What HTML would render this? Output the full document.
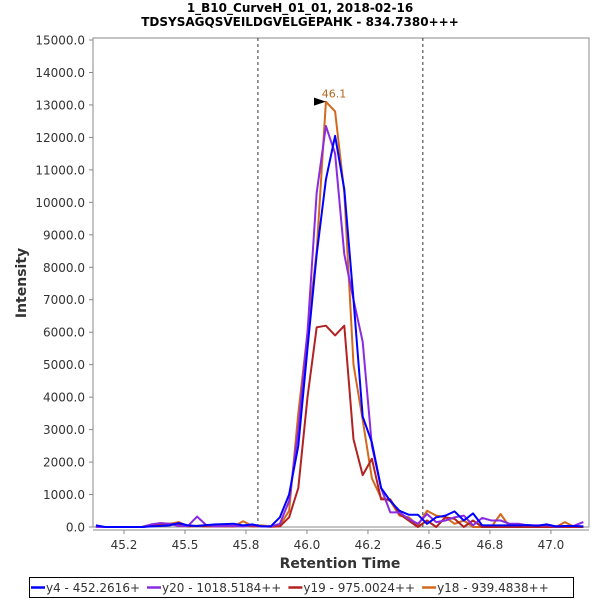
<!DOCTYPE html>
<html><head><meta charset="utf-8"><style>
body{margin:0;background:#fff;font-family:"DejaVu Sans",sans-serif}
svg{display:block}
</style></head><body>
<svg width="600" height="600" id="chart" font-family="DejaVu Sans, sans-serif">
<text x="300" y="12" text-anchor="middle" font-size="12" font-weight="bold" fill="#000">1_B10_CurveH_01_01, 2018-02-16</text>
<text x="300" y="26" text-anchor="middle" font-size="12" font-weight="bold" fill="#000">TDSYSAGQSVEILDGVELGEPAHK - 834.7380+++</text>
<g id="yaxis"></g>
<g id="xaxis"></g>
<text transform="translate(26,283) rotate(-90)" text-anchor="middle" font-size="14" font-weight="bold" fill="#333">Intensity</text>
<text x="340" y="568" text-anchor="middle" font-size="14" font-weight="bold" fill="#333">Retention Time</text>
<g id="series"></g>
<g id="legend">
<rect x="29.5" y="577.5" width="544" height="20" fill="#fff" stroke="#000"/>
</g>
</svg>
<script>
const startTime = 45.135;
const step = 0.0377;
const y4 = [50,0,0,0,0,0,20,30,50,120,50,30,60,80,90,100,50,80,20,20,300,1000,2500,5500,8400,10700,12050,10400,7000,3400,2600,1200,800,500,380,380,100,300,350,480,200,420,50,50,50,50,50,60,40,80,20,30,30,20];
const y20 = [0,0,0,0,0,0,80,120,100,30,30,320,60,20,30,30,20,60,20,20,100,800,3000,6000,10300,12350,11500,8400,7000,5700,2500,1200,450,450,250,100,400,150,200,300,350,50,280,200,200,100,100,50,50,50,20,30,40,150];
const y19 = [0,0,0,0,0,0,30,60,100,80,20,30,20,20,20,20,50,20,20,10,20,300,1200,4000,6150,6200,5900,6200,2700,1600,2100,850,850,400,200,0,200,0,300,250,0,200,0,0,0,0,0,0,0,0,0,0,0,0];
const y18 = [0,0,0,0,0,0,50,120,100,150,30,40,60,50,60,20,180,30,50,20,50,500,3500,6000,8500,13100,12800,10300,5000,3300,1500,900,800,350,300,50,500,350,300,100,200,0,0,0,400,0,50,60,20,0,0,150,0,0];
const yTicks = [0,1000,2000,3000,4000,5000,6000,7000,8000,9000,10000,11000,12000,13000,14000,15000];
const xTicks = [45.25,45.5,45.75,46.0,46.25,46.5,46.75,47.0];
const xTickLabels = ["45.2","45.5","45.8","46.0","46.2","46.5","46.8","47.0"];
const boundaries = [45.799,46.475];
const peakTime = 46.078, peakValue = 13100, peakLabel = "46.1";
const legendLabels = ["y4 - 452.2616+","y20 - 1018.5184++","y19 - 975.0024++","y18 - 939.4838++"];
const colors = ["#0000ff","#8a2be2","#b22222","#d2691e"];

const L=93,R=589,T=38,B=527;
const xmin=45.123,xmax=47.156;
const X=t=>L+(t-xmin)/(xmax-xmin)*(R-L);
const Y=v=>B-(v/15000)*(B-40);
const NS="http://www.w3.org/2000/svg";
function mk(tag,attrs,parent){const e=document.createElementNS(NS,tag);for(const k in attrs)e.setAttribute(k,attrs[k]);parent.appendChild(e);return e;}
const ya=document.getElementById('yaxis'), xa=document.getElementById('xaxis');
let r=mk('rect',{x:L,y:T,width:R-L,height:B-T,fill:'#fff',stroke:'#888'},ya);


yTicks.forEach(v=>{
  const tl=mk('line',{x1:L-4,x2:L,y1:Y(v),y2:Y(v),stroke:'#888'},ya);
  
  
  const t=mk('text',{x:L-8,y:Y(v)+4.5,'text-anchor':'end','font-size':'12',fill:'#333'},ya);
  t.textContent=v.toFixed(1);
  
  
});
mk('line',{x1:L,x2:R,y1:B+3,y2:B+3,stroke:'#888'},xa);
xTicks.forEach((v,i)=>{
  const tl=mk('line',{x1:X(v),x2:X(v),y1:B+3,y2:B+7,stroke:'#888'},xa);
  
  
  const t=mk('text',{x:X(v),y:B+22,'text-anchor':'middle','font-size':'12',fill:'#333'},xa);
  t.textContent=xTickLabels[i];
  
  
});
const sg=document.getElementById('series');
boundaries.forEach(b=>{
  const l=mk('line',{x1:X(b),x2:X(b),y1:T,y2:B,stroke:'#333','stroke-dasharray':'3,3'},sg);
  
  
});
const data=[y4,y20,y19,y18];
const names=['series-y4','series-y20','series-y19','series-y18'];
[3,2,1,0].forEach(si=>{
  const pts=data[si].map((v,i)=>X(startTime+i*step).toFixed(1)+','+Y(v).toFixed(1)).join(' ');
  const p=mk('polyline',{points:pts,fill:'none',stroke:colors[si],'stroke-width':2,'stroke-linejoin':'round'},sg);
  
  
});
const px=X(peakTime),py=Y(peakValue);
const ar=mk('polygon',{points:`${px-12},${py-4} ${px},${py} ${px-12},${py+4}`,fill:'#000'},sg);


const pl=mk('text',{x:px+8,y:py-4,'text-anchor':'middle','font-size':'11',fill:'#b5651d'},sg);
pl.textContent=peakLabel;


const lg=document.getElementById('legend');
const texts=[];
legendLabels.forEach((s,i)=>{
  const t=mk('text',{x:0,y:592,'font-size':'12',fill:'#333'},lg);
  t.textContent=s;
  
  
  texts.push(t);
});
// fit entries into legend box
let widths=texts.map(t=>t.getComputedTextLength());
const avail=534-4*16-3*6;
const sum=widths.reduce((a,b)=>a+b,0);
if(sum>avail){texts.forEach((t,i)=>{t.setAttribute('textLength',widths[i]*avail/sum);t.setAttribute('lengthAdjust','spacingAndGlyphs');});widths=widths.map(w=>w*avail/sum);}
let cx=31;
texts.forEach((t,i)=>{
  const l=mk('line',{x1:cx,x2:cx+14,y1:587.5,y2:587.5,stroke:colors[i],'stroke-width':2.5},lg);
  
  
  t.setAttribute('x',cx+15);
  cx+=16+widths[i]+6;
});
</script>
</body></html>
